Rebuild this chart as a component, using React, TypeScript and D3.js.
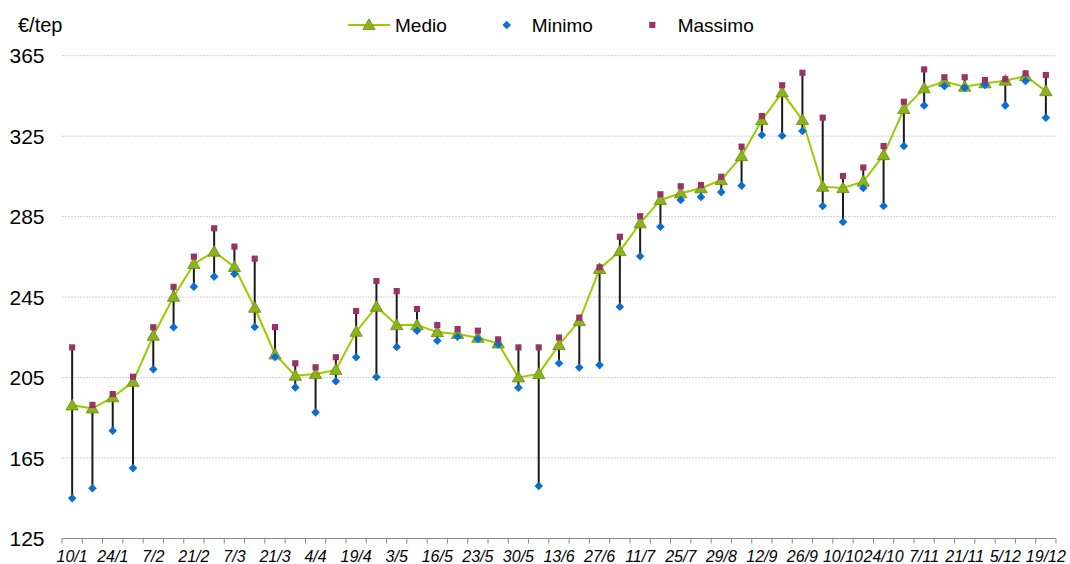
import React from "react";
import * as d3 from "d3";

const tickLabels = ["10/1","24/1","7/2","21/2","7/3","21/3","4/4","19/4","3/5","16/5","23/5","30/5","13/6","27/6","11/7","25/7","29/8","12/9","26/9","10/10","24/10","7/11","21/11","5/12","19/12"];

const medio = [191.2,189.7,195.2,202.9,225.8,245.2,261.5,267.6,260.0,239.7,216.5,205.9,206.8,208.8,227.8,240.2,231.1,231.1,227.6,226.7,224.8,222.0,205.1,206.8,221.2,233.1,259.0,267.9,281.7,293.3,296.6,299.1,303.2,315.1,333.0,346.8,333.0,299.9,299.2,302.4,315.6,338.5,348.8,352.1,349.6,351.3,352.6,354.9,347.4];
const minimo = [145.0,150.0,178.6,160.0,209.1,230.0,250.2,255.2,256.5,230.1,215.2,200.1,187.7,203.2,215.1,205.3,220.2,228.3,223.3,225.3,224.2,221.5,200.0,151.1,212.1,210.0,211.2,240.2,265.3,280.0,293.3,294.8,297.2,300.4,325.6,325.2,327.6,290.3,282.3,299.2,290.3,320.1,340.3,349.9,349.1,350.4,340.3,352.4,334.2];
const massimo = [220.0,191.4,196.8,205.4,230.0,250.1,265.1,279.2,270.1,264.1,230.1,212.1,210.1,215.1,238.1,253.0,248.0,239.1,231.1,229.1,228.3,224.0,220.0,220.0,224.9,234.8,259.8,275.0,285.2,296.1,300.1,300.7,304.8,319.8,335.0,350.3,356.5,334.2,305.2,309.4,320.1,342.1,358.2,354.3,354.3,352.9,353.3,356.2,355.4];
const yTicks = [125,165,205,245,285,325,365];

const W = 1070, H = 564;
const FONT = "Arial, 'Liberation Sans', sans-serif";
const LINE_GREEN = "#99cc00";
const TRI_FILL = "#8db31c";
const TRI_STROKE = "#6a8a12";
const BLUE = "#0a6fd1";
const MAROON = "#993366";

export default function App() {
  const n = medio.length;
  const x = d3.scaleBand<number>().domain(d3.range(n)).range([62, 1056]).padding(0);
  const cx = (i: number) => (x(i) as number) + x.bandwidth() / 2;
  const y = d3.scaleLinear().domain([125, 365]).range([538.5, 55.7]);

  const line = d3.line<number>().x((_, i) => cx(i)).y((d) => y(d));
  const tri = d3.symbol().type(d3.symbolTriangle).size(66)();
  const dia = "M0,-4.3L4.3,0L0,4.3L-4.3,0Z";
  const sq = d3.symbol().type(d3.symbolSquare).size(38)();

  return (
    <svg width={W} height={H} style={{ position: "absolute", left: 0, top: 0 }} fontFamily={FONT}>
      <rect width={W} height={H} fill="#fff" />
      {yTicks.filter((t) => t !== 125).map((t) => (
        <line key={t} x1={62} x2={1056} y1={y(t)} y2={y(t)} stroke="#cfcfcf" strokeWidth={1} strokeDasharray="2,1" />
      ))}
      {yTicks.map((t) => (
        <text key={t} x={44.5} y={y(t)} dy="0.36em" textAnchor="end" fontSize={21} fill="#000">{t}</text>
      ))}
      <text x={18} y={32} fontSize={20} fill="#000">€/tep</text>
      <line x1={62} x2={1056} y1={538.5} y2={538.5} stroke="#868686" strokeWidth={1} />
      {d3.range(n + 1).map((i) => {
        const xx = i < n ? (x(i) as number) : 1056;
        return <line key={i} x1={xx} x2={xx} y1={538.5} y2={543.5} stroke="#868686" strokeWidth={1} />;
      })}
      {tickLabels.map((l, k) => (
        <text key={l} x={cx(k * 2)} y={562} textAnchor="middle" fontSize={16} fontStyle="italic" fill="#000">{l}</text>
      ))}
      {medio.map((_, i) => (
        <line key={i} x1={cx(i)} x2={cx(i)} y1={y(minimo[i])} y2={y(massimo[i])} stroke="#1a1a1a" strokeWidth={2} />
      ))}
      <path d={line(medio) || ""} fill="none" stroke={LINE_GREEN} strokeWidth={2} />
      {medio.map((v, i) => (
        <path key={i} d={tri || ""} transform={`translate(${cx(i)},${y(v) + 1})`} fill={TRI_FILL} stroke={TRI_STROKE} strokeWidth={0.8} />
      ))}
      {minimo.map((v, i) => (
        <path key={i} d={dia} transform={`translate(${cx(i)},${y(v)})`} fill={BLUE} />
      ))}
      {massimo.map((v, i) => (
        <path key={i} d={sq || ""} transform={`translate(${cx(i)},${y(v)})`} fill={MAROON} />
      ))}
      <line x1={348} x2={390} y1={25} y2={25} stroke={LINE_GREEN} strokeWidth={2} />
      <path d={tri || ""} transform="translate(369,26)" fill={TRI_FILL} stroke={TRI_STROKE} strokeWidth={0.8} />
      <text x={395} y={32} fontSize={19} fill="#000">Medio</text>
      <path d={dia} transform="translate(506.7,25)" fill={BLUE} />
      <text x={531.7} y={32} fontSize={19} fill="#000">Minimo</text>
      <path d={sq || ""} transform="translate(652.3,25)" fill={MAROON} />
      <text x={677.7} y={32} fontSize={19} fill="#000">Massimo</text>
    </svg>
  );
}
